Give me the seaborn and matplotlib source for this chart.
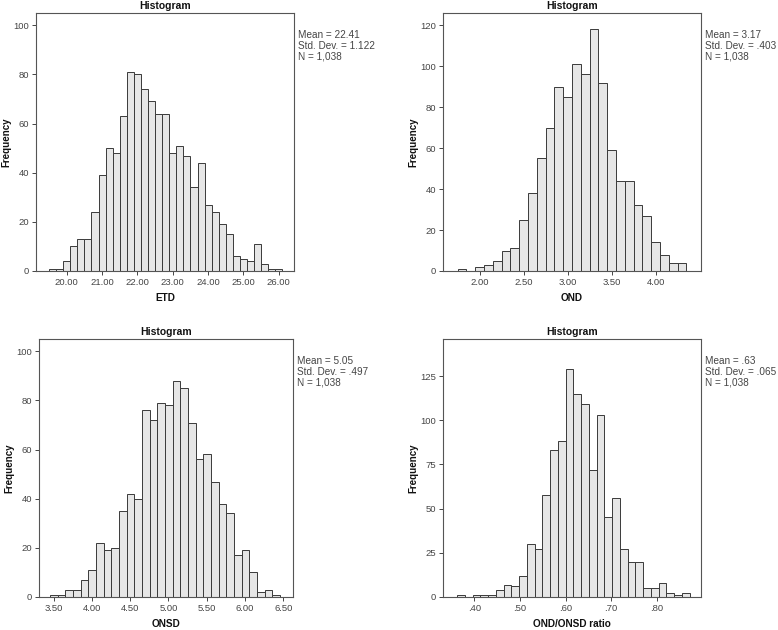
import matplotlib
matplotlib.use("Agg")
import matplotlib.pyplot as plt
import numpy as np
import pandas as pd
import seaborn as sns
from matplotlib.ticker import FixedLocator, FuncFormatter

# 数据: 每个直方图的频数
etd_counts = [1, 1, 4, 10, 13, 13, 24, 39, 50, 48, 63, 81, 80, 74, 69, 64, 64,
              48, 51, 47, 34, 44, 27, 24, 19, 15, 6, 5, 4, 11, 3, 1, 1]
etd_start, etd_width = 19.5, 0.2

ond_counts = [1, 0, 2, 3, 5, 10, 11, 25, 38, 55, 70, 90, 85, 101, 96, 118, 92,
              59, 44, 44, 32, 27, 14, 8, 4, 4]
ond_start, ond_width = 1.745, 0.1

onsd_counts = [1, 1, 3, 3, 7, 11, 22, 19, 20, 35, 42, 40, 76, 72, 79, 78, 88,
               85, 71, 56, 58, 47, 38, 34, 17, 19, 10, 2, 3, 1]
onsd_start, onsd_width = 3.455, 0.1

ratio_counts = [1, 0, 1, 1, 1, 4, 7, 6, 12, 30, 27, 58, 83, 88, 129, 115, 109,
                72, 103, 45, 56, 27, 20, 20, 5, 5, 8, 2, 1, 2]
ratio_start, ratio_width = 0.362, 0.017

labels = ["ETD", "OND", "ONSD", "OND/ONSD ratio"]
stats = [
    ["Mean = 22.41", "Std. Dev. = 1.122", "N = 1,038"],
    ["Mean = 3.17", "Std. Dev. = .403", "N = 1,038"],
    ["Mean = 5.05", "Std. Dev. = .497", "N = 1,038"],
    ["Mean = .63", "Std. Dev. = .065", "N = 1,038"],
]

# 刻度
etd_ticks = [20, 21, 22, 23, 24, 25, 26]
ond_ticks = [2.0, 2.5, 3.0, 3.5, 4.0]
onsd_ticks = [3.5, 4.0, 4.5, 5.0, 5.5, 6.0, 6.5]
ratio_ticks = [0.4, 0.5, 0.6, 0.7, 0.8]
yticks = [
    [0, 20, 40, 60, 80, 100],
    [0, 20, 40, 60, 80, 100, 120],
    [0, 20, 40, 60, 80, 100],
    [0, 25, 50, 75, 100, 125],
]

sns.set_theme(style="ticks")
plt.rcParams["font.family"] = ["Liberation Sans", "DejaVu Sans"]
plt.rcParams["font.size"] = 7

fig = plt.figure(figsize=(7.78, 6.3), dpi=100)
W, H = 778, 630


def add_ax(left, top, right, bottom):
    return fig.add_axes([left / W, (H - bottom) / H, (right - left) / W, (bottom - top) / H])


axes = [
    add_ax(36, 13, 294, 271),
    add_ax(443, 13, 701, 271),
    add_ax(39, 339, 293, 597),
    add_ax(443, 339, 701, 597),
]

series = [
    (etd_counts, etd_start, etd_width),
    (ond_counts, ond_start, ond_width),
    (onsd_counts, onsd_start, onsd_width),
    (ratio_counts, ratio_start, ratio_width),
]
xticks = [etd_ticks, ond_ticks, onsd_ticks, ratio_ticks]
xlims = [(19.13, 26.43), (1.58, 4.51), (3.31, 6.625), (0.331, 0.897)]
ylims = [105, 126, 105, 146]
xfmt = [
    lambda v, p: f"{v:.2f}",
    lambda v, p: f"{v:.2f}",
    lambda v, p: f"{v:.2f}",
    lambda v, p: f"{v:.2f}".lstrip("0"),
]

edge = "#3a3a3a"
fill = "#e6e6e6"
txt = "#454545"

for i, ax in enumerate(axes):
    counts, start, width = series[i]
    n = len(counts)
    edges = [float(start + width * k) for k in range(n + 1)]
    centers = [(edges[k] + edges[k + 1]) / 2 for k in range(n)]
    df = pd.DataFrame({"x": centers, "w": counts})
    sns.histplot(data=df, x="x", weights="w", bins=edges, ax=ax,
                 color=fill, edgecolor=edge, linewidth=0.7, alpha=1)

    ax.set_xlim(*xlims[i])
    ax.set_ylim(0, ylims[i])
    ax.xaxis.set_major_locator(FixedLocator(xticks[i]))
    ax.yaxis.set_major_locator(FixedLocator(yticks[i]))
    ax.xaxis.set_major_formatter(FuncFormatter(xfmt[i]))
    ax.tick_params(axis="both", labelsize=6.8, colors=txt, length=3, width=0.7,
                   pad=2)
    for s in ax.spines.values():
        s.set_color("#555555")
        s.set_linewidth(0.8)

    ax.set_title("Histogram", fontsize=7.5, fontweight="bold", pad=3, color="#111111")
    ax.set_xlabel(labels[i], fontsize=7.2, fontweight="bold", color="#111111")
    ax.set_ylabel("Frequency", fontsize=7.0, fontweight="bold", color="#111111")
    ax.xaxis.label.set_va("center")
    ax.yaxis.label.set_va("center")
    ax.xaxis.set_label_coords(0.5, -27 / 258)
    ax.yaxis.set_label_coords(-30 / 258, 0.5)

    # 统计信息文本
    ax.text(1.0 + 4 / 258, 1.0 - 33 / 258, "\n".join(stats[i]),
            transform=ax.transAxes, fontsize=7.2, color=txt,
            ha="left", va="center", linespacing=1.12)

fig.savefig("out.png", dpi=100, facecolor="white")
